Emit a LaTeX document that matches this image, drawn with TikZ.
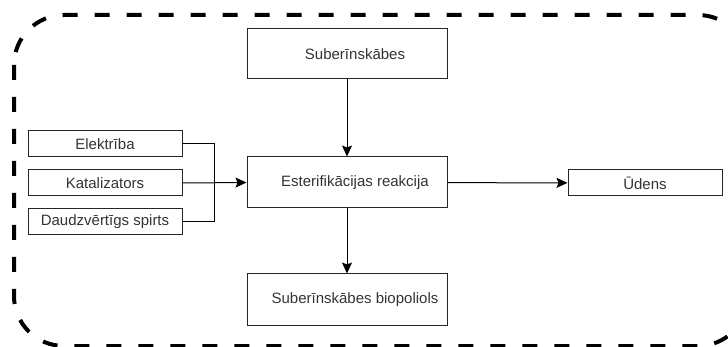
\documentclass[tikz,border=0pt]{standalone}
\usepackage{fontspec}
\setmainfont{Liberation Sans}
\usepackage{tikz}
\usetikzlibrary{arrows.meta,calc}

\begin{document}
\begin{tikzpicture}[x=1pt,y=-1pt,
    box/.style={draw=black!85, line width=1pt, minimum width=200pt, minimum height=51pt,
        inner sep=0pt, font=\fontsize{15}{17}\selectfont, text=black!80},
    smallbox/.style={box, minimum width=154pt, minimum height=26pt},
    arr/.style={-{Stealth[length=11pt,width=10pt,inset=2pt]}, line width=1pt, draw=black}]
    \useasboundingbox (0,0) rectangle (728,347);
    % outer border
    \draw[line width=4pt, dash pattern=on 15pt off 17pt, rounded corners=50pt]
        (14,15) rectangle (748,346);
    % main column (text sits a little right of centre)
    \node[box, minimum height=50pt] (sub) at (347,54) {\hspace*{16pt}Suberīnskābes};
    \node[box] (est) at (347,182.5) {\hspace*{16pt}Esterifikācijas reakcija};
    \node[box] (bio) at (347,299.5) {\hspace*{16pt}Suberīnskābes biopoliols};
    % inputs
    \node[smallbox] (elek) at (105,144) {Elektrība};
    \node[smallbox] (kat) at (105,183) {Katalizators};
    \node[smallbox] (spirts) at (105,222) {Daudzvērtīgs spirts};
    % output
    \node[smallbox] (udens) at (645,183) {Ūdens};
    \coordinate (m) at (214,183);
    \draw[line width=1pt] (elek.east) -- (elek.east -| m) -- (spirts.east -| m) -- (spirts.east);
    \draw[arr] (kat.east) -- (est.west);
    \draw[arr] (sub) -- (est);
    \draw[arr] (est) -- (bio);
    \draw[arr] (est) -- (udens);
\end{tikzpicture}
\end{document}
